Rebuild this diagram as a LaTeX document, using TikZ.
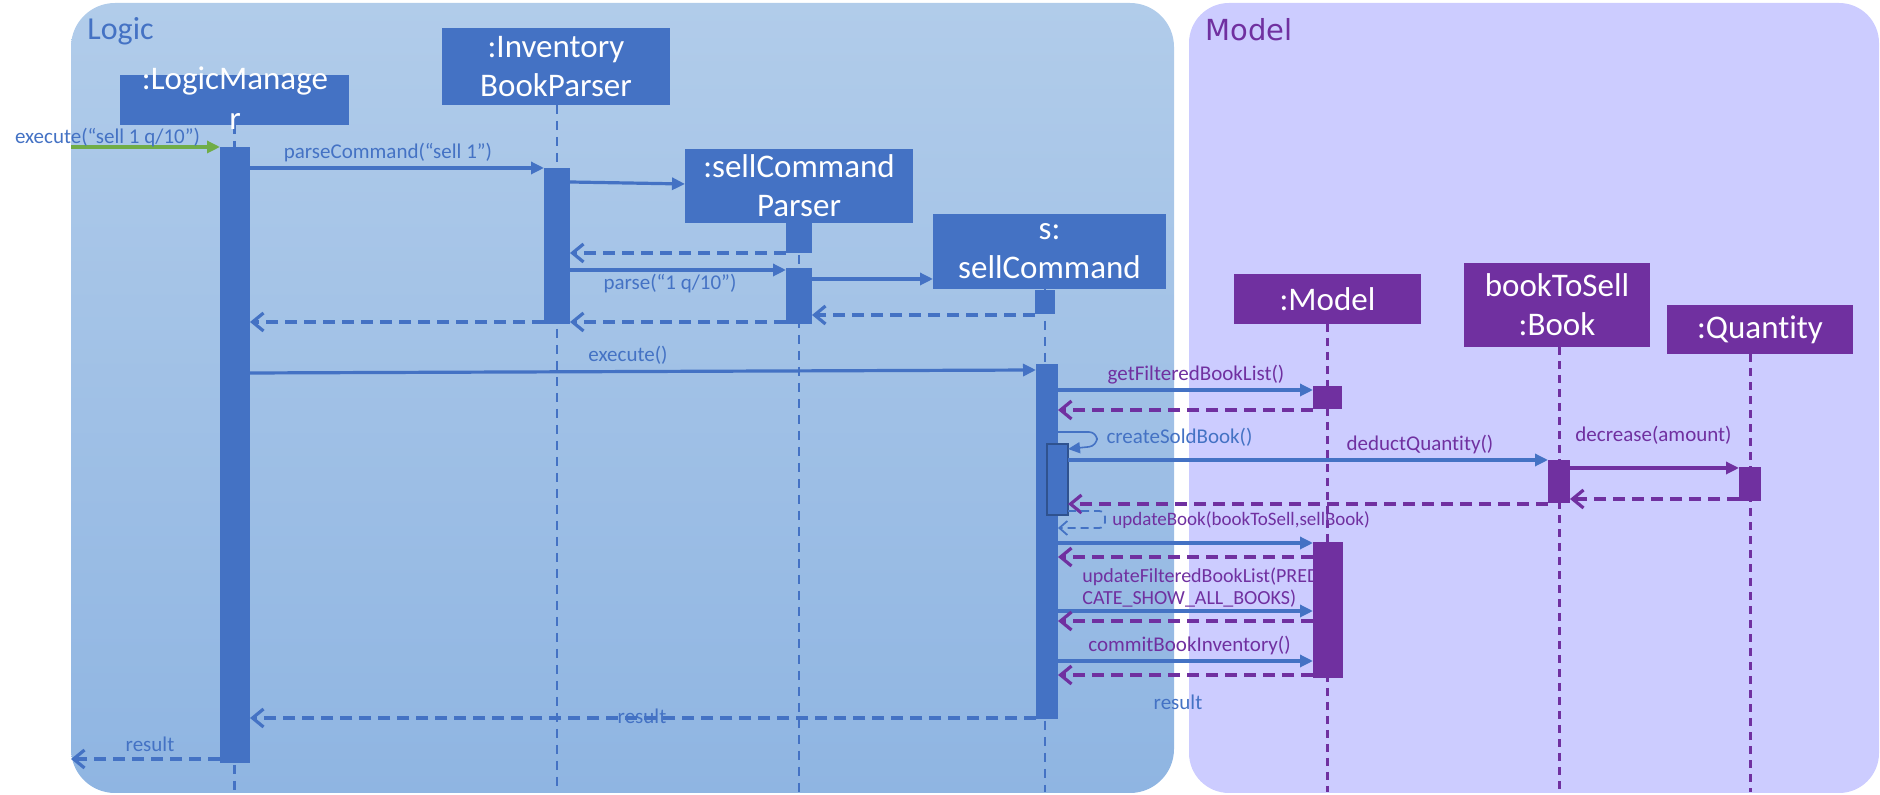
\documentclass[tikz,border=0pt]{standalone}
\usepackage{fontspec}
\setmainfont{Carlito}[Ligatures=NoCommon]
\newfontfamily\dejavu{DejaVu Sans}
\usetikzlibrary{arrows.meta,calc}
\definecolor{lblue}{HTML}{4472C4}
\definecolor{lpurple}{HTML}{7030A0}
\definecolor{lgreen}{HTML}{70AD47}
\definecolor{lborder}{HTML}{2F528F}
\definecolor{ptop}{HTML}{B1CCEA}
\definecolor{pbot}{HTML}{8FB5E2}
\definecolor{mfill}{HTML}{CCCCFF}
\begin{document}
\begin{tikzpicture}[x=0.5pt,y=-0.5pt,
  objbox/.style={rectangle, fill=lblue, text=white, inner sep=0pt, outer sep=0pt, align=center, font=\fontsize{16.5pt}{19.5pt}\selectfont},
  modbox/.style={objbox, fill=lpurple},
  actbar/.style={rectangle, fill=lblue, inner sep=0pt, outer sep=0pt},
  modbar/.style={actbar, fill=lpurple},
  lifeL/.style={draw=lblue, line width=1.1pt, dash pattern=on 4.5pt off 3.5pt},
  lifeM/.style={draw=lpurple, line width=1.5pt, dash pattern=on 4pt off 3pt},
  callB/.style={draw=lblue, line width=1.6pt, -{Triangle[length=6.5pt,width=6pt]}},
  callP/.style={callB, draw=lpurple},
  callG/.style={callB, draw=lgreen},
  retB/.style={draw=lblue, line width=1.6pt, dash pattern=on 6pt off 3.5pt, -{Straight Barb[length=5.5pt,width=9pt]}},
  retP/.style={retB, draw=lpurple},
  lbl/.style={font=\fontsize{10.5pt}{11pt}\selectfont, inner sep=0pt},
  lblB/.style={lbl, text=lblue},
  lblP/.style={lbl, text=lpurple}
]
\useasboundingbox (0,0) rectangle (1880,795);
% panels
\shade[top color=ptop, bottom color=pbot, rounded corners=22pt] (71,3) rectangle (1174,793);
\fill[mfill, rounded corners=20pt] (1189,3) rectangle (1879,793);
\node[anchor=base west, inner sep=0pt, text=lblue, font=\fontsize{16pt}{18pt}\selectfont] (logiclbl) at (87,40) {Logic};
\node[anchor=base west, inner sep=0pt, text=lpurple, font=\dejavu\fontsize{14.5pt}{17pt}\selectfont] (modellbl) at (1205,40.5) {Model};

% object boxes
\node[objbox, minimum width=114.5pt, minimum height=25pt] (lmbox) at (234.5,100) {};
\node[objbox, minimum width=114pt, minimum height=38.5pt] (ibpbox) at (556,66.5) {:Inventory\\BookParser};
\node[objbox, minimum width=114pt, minimum height=37pt] (scpbox) at (799,186) {:sellCommand\\Parser};
\node[objbox, minimum width=116.5pt, minimum height=37.5pt] (scbox) at (1049.5,251.5) {s:\\sellCommand};
\node[modbox, minimum width=93.5pt, minimum height=25pt] (mbox) at (1327.5,299) {:Model};
\node[modbox, minimum width=93pt, minimum height=42pt] (bookbox) at (1557,305) {bookToSell\\:Book};
\node[modbox, minimum width=93pt, minimum height=24.5pt] (qbox) at (1760,330) {:Quantity};

% lifelines
\draw[lifeL] (lmbox.south) -- (lmbox.south |- 0,792);
\draw[lifeL] ($(ibpbox.south)+(1,0)$) -- ($(ibpbox.south |- 0,792)+(1,0)$);
\draw[lifeL] (scpbox.south) -- (scpbox.south |- 0,792);
\draw[lifeL] ($(scbox.south)+(-4.5,0)$) -- ($(scbox.south |- 0,792)+(-4.5,0)$);
\draw[lifeM] (mbox.south) -- (mbox.south |- 0,792);
\draw[lifeM] ($(bookbox.south)+(2,0)$) -- ($(bookbox.south |- 0,792)+(2,0)$);
\draw[lifeM] ($(qbox.south)+(-10,0)$) -- ($(qbox.south |- 0,792)+(-10,0)$);

% box text for LogicManager (overflowing)
\node[anchor=base, inner sep=0pt, text=white, font=\fontsize{16.5pt}{19.5pt}\selectfont] (lmtxt1) at (235,90) {:LogicManage};
\node[anchor=base, inner sep=0pt, text=white, font=\fontsize{16.5pt}{19.5pt}\selectfont] (lmtxt2) at (235,130) {r};

% activation bars
\node[actbar, minimum width=15pt, minimum height=308pt] (lmbar) at (235,455) {};
\node[actbar, minimum width=13pt, minimum height=78pt] (ibpbar) at (557,246) {};
\node[actbar, minimum width=13pt, minimum height=15pt] (scpbar1) at (799,238) {};
\node[actbar, minimum width=13pt, minimum height=28pt] (scpbar2) at (799,296) {};
\node[actbar, minimum width=10pt, minimum height=12pt] (scbar1) at (1045,302) {};
\node[actbar, minimum width=11pt, minimum height=177.5pt] (scbar2) at (1047,541.5) {};
\node[actbar, draw=lborder, line width=0.8pt, minimum width=10.5pt, minimum height=35.5pt] (nested) at (1057.5,479.5) {};
\node[modbar, minimum width=14.5pt, minimum height=11.5pt] (mbar1) at (1327.5,397.5) {};
\node[modbar, minimum width=15pt, minimum height=68pt] (mbar2) at (1328,610) {};
\node[modbar, minimum width=11pt, minimum height=21.5pt] (bookbar) at (1559,481.5) {};
\node[modbar, minimum width=11pt, minimum height=17pt] (qbar) at (1750,484) {};

% free ends
\coordinate (entry) at (71,147);
\coordinate (exitpt) at (71,759);

% messages
\draw[callG] (entry) -- (lmbar.west |- entry);
\node[lblB] (l1) at (107.5,138) {execute(“sell 1 q/10”)};

\draw[callB] (lmbar.east |- 0,168) -- (ibpbar.west |- 0,168);
\node[lblB] (l2) at (388,153) {parseCommand(“sell 1”)};

\draw[callB] (ibpbar.east |- 0,182) -- (scpbox.west |- 0,184);
\draw[retB] (scpbar1.west |- 0,253) -- (ibpbar.east |- 0,253);

\draw[callB] (ibpbar.east |- 0,270) -- (scpbar2.west |- 0,270);
\node[lblB] (l3) at (670,284) {parse(“1 q/10”)};

\draw[callB] (scpbar2.east |- 0,279) -- (scbox.west |- 0,279);
\draw[retB] (scbar1.west |- 0,315) -- (scpbar2.east |- 0,315);
\draw[retB] (scpbar2.west |- 0,322) -- (ibpbar.east |- 0,322);
\draw[retB] (ibpbar.west |- 0,322) -- (lmbar.east |- 0,322);

\draw[callB] (lmbar.east |- 0,373) -- (scbar2.west |- 0,370);
\node[lblB] (l4) at (628,355) {execute()};

\draw[callB] (scbar2.east |- 0,390) -- (mbar1.west |- 0,390);
\node[lblP] (l5) at (1196,375) {getFilteredBookList()};
\draw[retP] (mbar1.west |- 0,410) -- (scbar2.east |- 0,410);

\draw[draw=lblue, line width=0.8pt, -{Triangle[length=6pt,width=5.5pt]}, rounded corners=4pt]
  (scbar2.east |- 0,432) -- (1097,432) -- (1097,446) -- (nested.east |- 0,449);
\node[lblB] (l6) at (1179.5,437) {createSoldBook()};

\draw[callB] (nested.east |- 0,460) -- (bookbar.west |- 0,460);
\node[lblP] (l7) at (1420,445) {deductQuantity()};

\draw[callP] (bookbar.east |- 0,468) -- (qbar.west |- 0,468);
\node[lblP] (l8) at (1653.5,435) {decrease(amount)};
\draw[retP] (qbar.west |- 0,499) -- (bookbar.east |- 0,499);
\draw[retP] (bookbar.west |- 0,504) -- (nested.east |- 0,504);

\draw[draw=lblue, line width=0.9pt, dash pattern=on 4pt off 2.5pt, -{Straight Barb[length=4pt,width=7pt]}, rounded corners=3pt]
  (nested.east |- 0,511) -- (1105,511) -- (1105,528) -- (scbar2.east |- 0,528);
\node[lblP, font=\fontsize{9.5pt}{11pt}\selectfont, anchor=west] (l9) at (1112,520) {updateBook(bookToSell,sellBook)};

\draw[callB] (scbar2.east |- 0,543) -- (mbar2.west |- 0,543);
\draw[retP] (mbar2.west |- 0,557) -- (scbar2.east |- 0,557);

\node[lblP, font=\fontsize{10pt}{11pt}\selectfont, anchor=west, align=left] (l10) at (1082,588) {updateFilteredBookList(PREDI\\CATE\_SHOW\_ALL\_BOOKS)};
\draw[callB] (scbar2.east |- 0,611) -- (mbar2.west |- 0,611);
\draw[retP] (mbar2.west |- 0,621) -- (scbar2.east |- 0,621);

\node[lblP] (l11) at (1189.5,646) {commitBookInventory()};
\draw[callB] (scbar2.east |- 0,661) -- (mbar2.west |- 0,661);
\draw[retP] (mbar2.west |- 0,675) -- (scbar2.east |- 0,675);

\node[lblB] (l12) at (1178,702) {result};

\draw[retB] (scbar2.west |- 0,718) -- (lmbar.east |- 0,718);
\node[lblB] (l13) at (642,716) {result};

\draw[retB] (lmbar.west |- exitpt) -- (exitpt);
\node[lblB] (l14) at (150,744) {result};
\end{tikzpicture}
\end{document}
